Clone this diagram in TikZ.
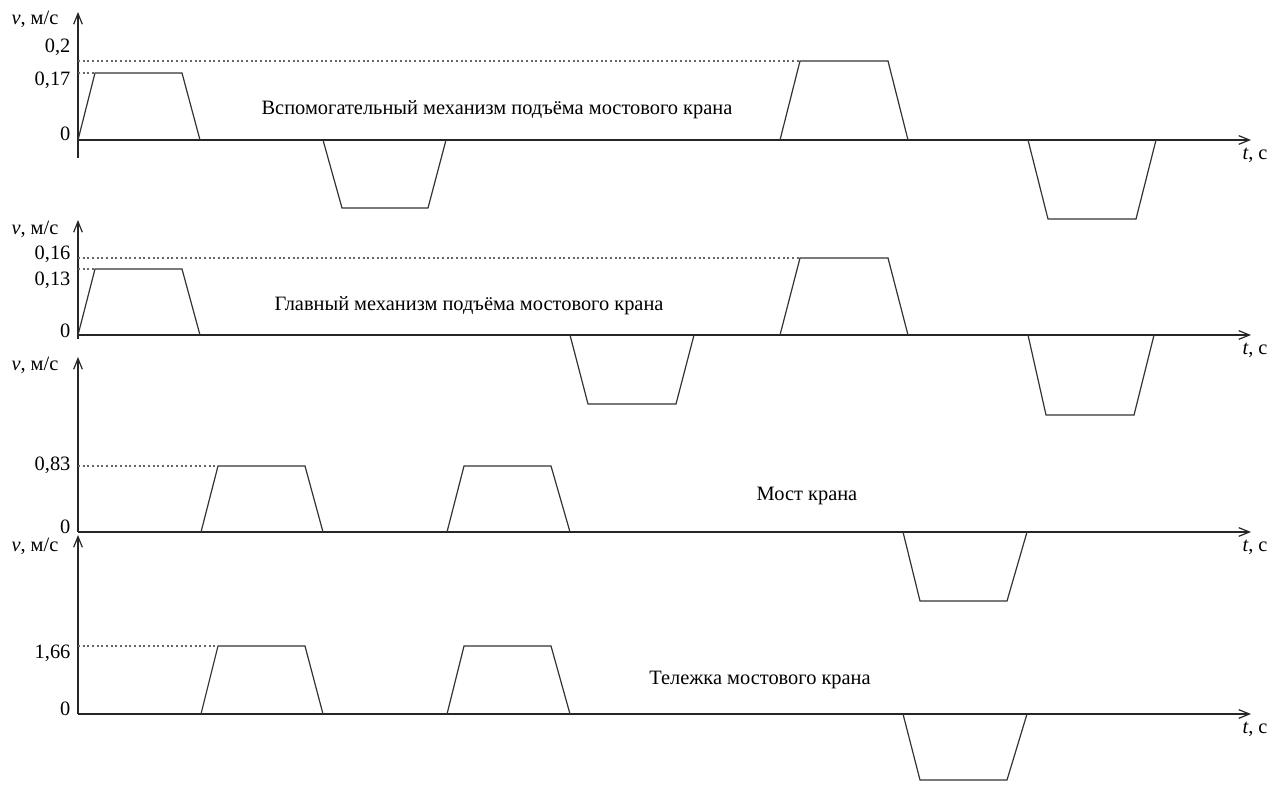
\documentclass[tikz,border=0pt]{standalone}
\usepackage{fontspec}
\setmainfont{Liberation Serif}
\usetikzlibrary{arrows.meta,positioning}

\begin{document}
\begin{tikzpicture}[x=0.75pt,y=-0.75pt,>={Straight Barb[length=8pt,width=6.5pt]},
  font=\fontsize{15.3}{17}\selectfont,
  axis/.style={->,line width=0.9pt,black!85},
  curve/.style={line width=0.9pt,black!80},
  guide/.style={line width=0.8pt,black!60,dash pattern=on 1.5pt off 2pt},
  val/.style={anchor=east,inner sep=1pt},
  unit/.style={anchor=east,inner sep=1pt},
  tlab/.style={anchor=north west,inner sep=1pt},
  caption/.style={anchor=center,inner sep=1pt}]
  \useasboundingbox (0,0) rectangle (1287,785);

  % graph 1: auxiliary hoist
  \coordinate (o1) at (78,140);
  \coordinate (y1) at (78,12);
  \coordinate (t1) at (1251,140);
  \draw[axis] (78,158) -- (y1);
  \draw[axis] (o1) -- (t1);
  \draw[guide] (o1 |- 0,61) -- (800,61);
  \draw[guide] (o1 |- 0,73) -- (95,73);
  \draw[curve] (78,140) -- (95,73) -- (182,73) -- (200,140);
  \draw[curve] (323,140) -- (342,208) -- (428,208) -- (446,140);
  \draw[curve] (780,140) -- (800,61) -- (888,61) -- (908,140);
  \draw[curve] (1028,140) -- (1048,219) -- (1136,219) -- (1156,140);
  \node[unit] (v1) at (60,19) {\textit{v}, м/с};
  \node[val] (a1) at (72,47) {0,2};
  \node[val] (b1) at (72,80) {0,17};
  \node[val] (z1) at (72,134) {0};
  \node[tlab] (tl1) at (1241,146) {\textit{t}, с};
  \node[caption] (c1) at (497,110) {Вспомогательный механизм подъёма мостового крана};

  % graph 2: main hoist
  \coordinate (o2) at (78,335);
  \coordinate (y2) at (78,220);
  \coordinate (t2) at (1251,335);
  \draw[axis] (78,339) -- (y2);
  \draw[axis] (o2) -- (t2);
  \draw[guide] (o2 |- 0,258) -- (800,258);
  \draw[guide] (o2 |- 0,269) -- (95,269);
  \draw[curve] (78,335) -- (95,269) -- (182,269) -- (200,335);
  \draw[curve] (570,335) -- (588,404) -- (676,404) -- (694,335);
  \draw[curve] (780,335) -- (800,258) -- (888,258) -- (908,335);
  \draw[curve] (1028,335) -- (1046,415) -- (1134,415) -- (1154,335);
  \node[unit] (v2) at (60,229) {\textit{v}, м/с};
  \node[val] (a2) at (72,254) {0,16};
  \node[val] (b2) at (72,280) {0,13};
  \node[val] (z2) at (72,331) {0};
  \node[tlab] (tl2) at (1241,341) {\textit{t}, с};
  \node[caption] (c2) at (469,306) {Главный механизм подъёма мостового крана};

  % graph 3: crane bridge
  \coordinate (o3) at (78,532);
  \coordinate (y3) at (78,357);
  \coordinate (t3) at (1251,532);
  \draw[axis] (o3) -- (y3);
  \draw[axis] (o3) -- (t3);
  \draw[guide] (o3 |- 0,466) -- (218,466);
  \draw[curve] (201,532) -- (218,466) -- (305,466) -- (323,532);
  \draw[curve] (447,532) -- (464,466) -- (551,466) -- (570,532);
  \draw[curve] (903,532) -- (920,601) -- (1007,601) -- (1027,532);
  \node[unit] (v3) at (60,365) {\textit{v}, м/с};
  \node[val] (a3) at (72,465) {0,83};
  \node[val] (z3) at (72,527) {0};
  \node[tlab] (tl3) at (1241,538) {\textit{t}, с};
  \node[caption] (c3) at (807,496) {Мост крана};

  % graph 4: trolley
  \coordinate (o4) at (78,714);
  \coordinate (y4) at (78,535);
  \coordinate (t4) at (1251,714);
  \draw[axis] (o4) -- (y4);
  \draw[axis] (o4) -- (t4);
  \draw[guide] (o4 |- 0,646) -- (218,646);
  \draw[curve] (201,714) -- (218,646) -- (305,646) -- (323,714);
  \draw[curve] (447,714) -- (464,646) -- (551,646) -- (570,714);
  \draw[curve] (903,714) -- (920,780) -- (1007,780) -- (1027,714);
  \node[unit] (v4) at (60,546) {\textit{v}, м/с};
  \node[val] (a4) at (72,653) {1,66};
  \node[val] (z4) at (72,709) {0};
  \node[tlab] (tl4) at (1241,720) {\textit{t}, с};
  \node[caption] (c4) at (760,680) {Тележка мостового крана};
\end{tikzpicture}
\end{document}
